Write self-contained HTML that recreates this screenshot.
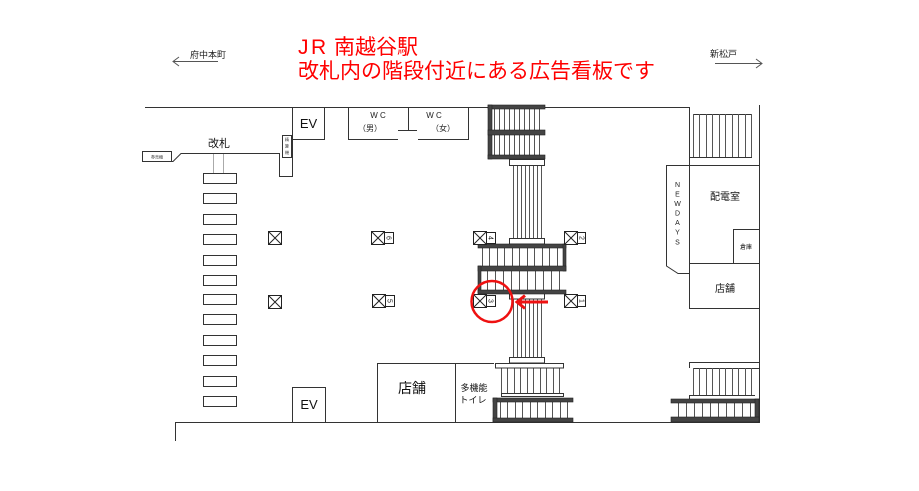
<!DOCTYPE html>
<html><head><meta charset="utf-8"><style>
html,body{margin:0;padding:0;background:#fff;}
svg{display:block;}
text{font-family:"Liberation Sans","Noto Sans CJK JP",sans-serif;}
</style></head><body>
<svg width="919" height="491" viewBox="0 0 919 491" xmlns="http://www.w3.org/2000/svg">
<rect width="919" height="491" fill="#fff"/>

<!-- Title -->
<text x="298" y="54" font-size="21" fill="#ff0000">J</text>
<text x="311" y="54" font-size="21" fill="#ff0000">R</text>
<text x="334" y="54" font-size="21" fill="#ff0000">南越谷駅</text>
<text x="298" y="78" font-size="21" fill="#ff0000">改札内の階段付近にある広告看板です</text>

<!-- direction arrows -->
<text x="190" y="58" font-size="9" fill="#222">府中本町</text>
<g stroke="#555" stroke-width="1" fill="none">
<line x1="173" y1="61.5" x2="218" y2="61.5"/>
<polyline points="179,57 173,61.5 179,66"/>
<line x1="715" y1="63.5" x2="762" y2="63.5"/>
<polyline points="756,59 762,63.5 756,68"/>
</g>
<text x="710" y="57" font-size="9" fill="#222">新松戸</text>

<g stroke="#333" stroke-width="1" fill="none">
<!-- top wall -->
<line x1="145" y1="107.5" x2="488" y2="107.5"/>
<line x1="545" y1="107.5" x2="689.5" y2="107.5"/>
<!-- right wall -->
<line x1="759.5" y1="105" x2="759.5" y2="423"/>
<!-- bottom wall -->
<line x1="175" y1="422.5" x2="759" y2="422.5"/>
<line x1="175.5" y1="422" x2="175.5" y2="441"/>

<!-- EV top -->
<polyline points="324.5,107 324.5,139.5 292.5,139.5"/>
<!-- left wall / gate line -->
<polyline points="292.5,107 292.5,176.5 279.5,176.5 279.5,153.5 181,153.5 173,161.5 142,161.5"/>
<rect x="142.5" y="151.5" width="29" height="10"/>
<rect x="282.5" y="135.5" width="9" height="22" fill="#fff"/>

<!-- WC -->
<polyline points="398,139.5 348.5,139.5 348.5,107"/>
<line x1="408.5" y1="107" x2="408.5" y2="130.5"/>
<line x1="398" y1="130.5" x2="417" y2="130.5"/>
<polyline points="418,139.5 468.5,139.5 468.5,107"/>

<!-- gates -->
<g>
<rect x="203.5" y="173.5" width="33" height="10"/>
<rect x="203.5" y="193.5" width="33" height="10"/>
<rect x="203.5" y="214.5" width="33" height="10"/>
<rect x="203.5" y="234.5" width="33" height="10"/>
<rect x="203.5" y="255.5" width="33" height="10"/>
<rect x="203.5" y="275.5" width="33" height="10"/>
<rect x="203.5" y="294.5" width="33" height="10"/>
<rect x="203.5" y="314.5" width="33" height="10"/>
<rect x="203.5" y="335.5" width="33" height="10"/>
<rect x="203.5" y="355.5" width="33" height="10"/>
<rect x="203.5" y="376.5" width="33" height="10"/>
<rect x="203.5" y="396.5" width="33" height="10"/>
</g>

<!-- bottom EV, shop, toilet -->
<polyline points="292.5,422 292.5,387.5 325.5,387.5 325.5,422"/>
<polyline points="377.5,422 377.5,363.5 494,363.5"/>
<line x1="455.5" y1="363.5" x2="455.5" y2="422"/>

<!-- right side rooms -->
<line x1="689.5" y1="107" x2="689.5" y2="165"/>
<line x1="693" y1="114.5" x2="752" y2="114.5"/>
<line x1="689" y1="157.5" x2="752" y2="157.5"/>
<line x1="666" y1="165.5" x2="759" y2="165.5"/>
<polyline points="666.5,165.5 666.5,266 678,273.5 689.5,273.5"/>
<rect x="689.5" y="165.5" width="70" height="98"/>
<rect x="733.5" y="229.5" width="26" height="34"/>
<rect x="689.5" y="263.5" width="70" height="45"/>

<!-- right bottom light stair -->
<polyline points="689.5,368 689.5,362.5 759,362.5"/>
<line x1="693" y1="368.5" x2="759" y2="368.5"/>
<polyline points="689.5,399 689.5,395.5 755,395.5"/>
</g>

<!-- step lines -->
<g stroke="#555" stroke-width="1">
<path d="M494.5 109V130M499.5 109V130M504.5 109V130M509.5 109V130M514.5 109V130M519.5 109V130M524.5 109V130M529.5 109V130M534.5 109V130M539.5 109V130"/>
<path d="M494.5 135V155M499.5 135V155M504.5 135V155M509.5 135V155M514.5 135V155M519.5 135V155M524.5 135V155M529.5 135V155M534.5 135V155M539.5 135V155"/>
<path d="M513.5 166V238M517.5 166V238M521.5 166V238M525.5 166V238M529.5 166V238M533.5 166V238M537.5 166V238M541.5 166V238"/>
<path d="M482.5 248V266M489.5 248V266M497.5 248V266M504.5 248V266M512.5 248V266M519.5 248V266M527.5 248V266M534.5 248V266M542.5 248V266M549.5 248V266M557.5 248V266"/>
<path d="M487.5 271V290M495.5 271V290M503.5 271V290M511.5 271V290M519.5 271V290M527.5 271V290M535.5 271V290M543.5 271V290M551.5 271V290M559.5 271V290"/>
<path d="M513.5 299V357M517.5 299V357M521.5 299V357M525.5 299V357M529.5 299V357M533.5 299V357M537.5 299V357M541.5 299V357"/>
<path d="M501.5 368V393M507.5 368V393M514.5 368V393M520.5 368V393M527.5 368V393M533.5 368V393M540.5 368V393M546.5 368V393M553.5 368V393M559.5 368V393"/>
<path d="M500.5 402V418M507.5 402V418M515.5 402V418M522.5 402V418M530.5 402V418M537.5 402V418M545.5 402V418M552.5 402V418M560.5 402V418M567.5 402V418"/>
<path d="M693.5 114V157M699.5 114V157M706.5 114V157M712.5 114V157M719.5 114V157M725.5 114V157M732.5 114V157M738.5 114V157M745.5 114V157M751.5 114V157"/>
<path d="M693.5 368V395M699.5 368V395M706.5 368V395M712.5 368V395M719.5 368V395M725.5 368V395M732.5 368V395M738.5 368V395M745.5 368V395M751.5 368V395"/>
<path d="M678.5 403V417M686.5 403V417M694.5 403V417M702.5 403V417M710.5 403V417M718.5 403V417M726.5 403V417M734.5 403V417M742.5 403V417M750.5 403V417"/>
</g>

<!-- gate thin lines -->
<g stroke="#aaa" stroke-width="1">
<line x1="213.5" y1="154" x2="213.5" y2="173"/>
<line x1="223.5" y1="154" x2="223.5" y2="173"/>
</g>

<!-- landings -->
<g stroke="#333" stroke-width="1" fill="#fff">
<rect x="509.5" y="159.5" width="35" height="6"/>
<rect x="509.5" y="238.5" width="35" height="5.5"/>
<rect x="509.5" y="293.5" width="35" height="5.5"/>
<rect x="509.5" y="357.5" width="35" height="5.5"/>
<rect x="495.5" y="363.5" width="68" height="4.5"/>
<rect x="501.5" y="393.5" width="62" height="3"/>
</g>

<!-- hatched bands -->
<g fill="#444" stroke="#222" stroke-width="0.6">
<rect x="488" y="105" width="57" height="4"/>
<rect x="488" y="105" width="4" height="54"/>
<rect x="488" y="130" width="57" height="5"/>
<rect x="488" y="155" width="57" height="4"/>

<rect x="478" y="244" width="88" height="4"/>
<rect x="563" y="244" width="3" height="27"/>
<rect x="478" y="266" width="88" height="5"/>
<rect x="478" y="266" width="3" height="27"/>
<rect x="478" y="290" width="88" height="4"/>

<rect x="493" y="398" width="80" height="4"/>
<rect x="493" y="398" width="4" height="24"/>
<rect x="493" y="418" width="80" height="4"/>

<rect x="671" y="399" width="88" height="4"/>
<rect x="755" y="399" width="4" height="23"/>
<rect x="671" y="417" width="88" height="5"/>
</g>

<!-- pillars -->
<g stroke="#222" stroke-width="1" fill="#fff">
<rect x="268.5" y="231.5" width="13" height="13"/><path d="M268.5 231.5L281.5 244.5M281.5 231.5L268.5 244.5"/>
<rect x="268.5" y="295.5" width="13" height="13"/><path d="M268.5 295.5L281.5 308.5M281.5 295.5L268.5 308.5"/>
<rect x="371.5" y="231.5" width="13" height="13"/><path d="M371.5 231.5L384.5 244.5M384.5 231.5L371.5 244.5"/>
<rect x="384.5" y="232.5" width="9" height="11"/>
<rect x="372.5" y="294.5" width="13" height="13"/><path d="M372.5 294.5L385.5 307.5M385.5 294.5L372.5 307.5"/>
<rect x="385.5" y="295.5" width="9" height="11"/>
<rect x="473.5" y="231.5" width="13" height="13"/><path d="M473.5 231.5L486.5 244.5M486.5 231.5L473.5 244.5"/>
<rect x="486.5" y="232.5" width="9" height="11"/>
<rect x="564.5" y="231.5" width="13" height="13"/><path d="M564.5 231.5L577.5 244.5M577.5 231.5L564.5 244.5"/>
<rect x="577.5" y="232.5" width="8" height="11"/>
<rect x="473.5" y="294.5" width="13" height="13"/><path d="M473.5 294.5L486.5 307.5M486.5 294.5L473.5 307.5"/>
<rect x="486.5" y="295.5" width="9" height="11"/>
<rect x="564.5" y="294.5" width="13" height="13"/><path d="M564.5 294.5L577.5 307.5M577.5 294.5L564.5 307.5"/>
<rect x="577.5" y="295.5" width="8" height="11"/>
</g>
<g font-size="7" fill="#222" text-anchor="middle">
<text transform="translate(386.5,238) rotate(90)" y="0">6</text>
<text transform="translate(387.5,301) rotate(90)" y="0">5</text>
<text transform="translate(488.5,238) rotate(90)" y="0">4</text>
<text transform="translate(579.5,238) rotate(90)" y="0">2</text>
<text transform="translate(488.5,301) rotate(90)" y="0">3</text>
<text transform="translate(579.5,301) rotate(90)" y="0">1</text>
</g>

<!-- labels -->
<text x="308.5" y="128" font-size="13" fill="#111" text-anchor="middle">EV</text>
<text x="309" y="409" font-size="13" fill="#111" text-anchor="middle">EV</text>
<text x="219" y="147" font-size="11" fill="#111" text-anchor="middle">改札</text>
<text x="157" y="158.5" font-size="4" fill="#333" text-anchor="middle">券売機</text>
<g font-size="4" fill="#333" text-anchor="middle">
<text x="287" y="141">精</text><text x="287" y="147.5">算</text><text x="287" y="154">機</text>
</g>
<g font-size="8" fill="#222" text-anchor="middle">
<text x="378" y="118">W C</text>
<text x="370" y="131">（男）</text>
<text x="434" y="118">W C</text>
<text x="443" y="131">（女）</text>
</g>
<text x="412" y="393" font-size="14" fill="#111" text-anchor="middle">店舗</text>
<text x="474" y="391" font-size="9" fill="#111" text-anchor="middle">多機能</text>
<text x="473" y="403" font-size="9" fill="#111" text-anchor="middle">トイレ</text>
<text x="725" y="200" font-size="10" fill="#111" text-anchor="middle">配電室</text>
<text x="746" y="249" font-size="6" fill="#111" text-anchor="middle">倉庫</text>
<text x="725" y="292" font-size="10" fill="#111" text-anchor="middle">店舗</text>
<g font-size="7" fill="#222" text-anchor="middle">
<text x="677.5" y="187">N</text>
<text x="677.5" y="196.5">E</text>
<text x="677.5" y="206">W</text>
<text x="677.5" y="215.5">D</text>
<text x="677.5" y="225">A</text>
<text x="677.5" y="234.5">Y</text>
<text x="677.5" y="244.5">S</text>
</g>

<!-- red markers -->
<circle cx="492" cy="301.5" r="20.5" fill="none" stroke="#ee1111" stroke-width="2.5"/>
<g stroke="#ee1111" stroke-width="3" fill="none">
<line x1="517" y1="302" x2="548" y2="302"/>
<polyline points="525,295.5 517,302 525,308.5"/>
</g>
</svg>
</body></html>
